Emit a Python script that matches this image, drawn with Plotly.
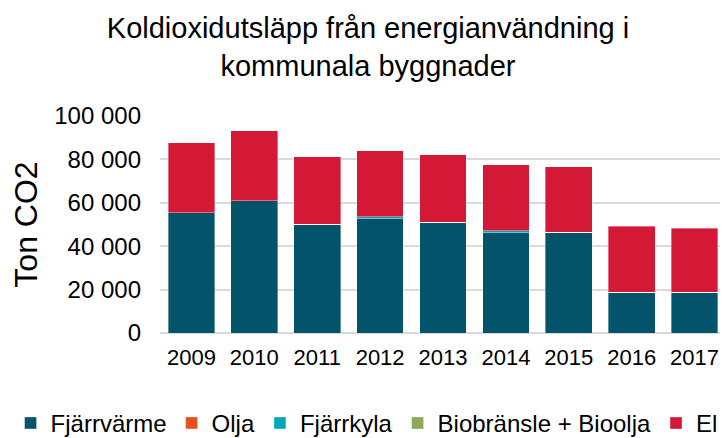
import plotly.graph_objects as go

years = ["2009", "2010", "2011", "2012", "2013", "2014", "2015", "2016", "2017"]
fjarrvarme = [55500, 61000, 50200, 52700, 51000, 46300, 46400, 18700, 18700]
olja = [0, 0, 0, 0, 0, 0, 0, 0, 0]
fjarrkyla = [0, 0, 0, 900, 0, 900, 0, 0, 0]
biobransle = [0, 0, 0, 0, 0, 0, 0, 0, 0]
el = [32100, 32100, 31000, 30300, 31200, 30300, 30200, 30400, 29500]

series = [
    ("Fjärrvärme", fjarrvarme, "#03536A"),
    ("Olja", olja, "#E8501E"),
    ("Fjärrkyla", fjarrkyla, "#00A7B8"),
    ("Biobränsle + Bioolja", biobransle, "#8DA857"),
    ("El", el, "#D41937"),
]

FONT = "Liberation Sans, Arial, sans-serif"

fig = go.Figure()
for name, vals, color in series:
    fig.add_trace(go.Bar(
        x=years, y=vals, name=name,
        marker=dict(color=color, line=dict(color="rgba(255,255,255,0.6)", width=0.6)),
    ))

fig.update_layout(
    width=720, height=430,
    barmode="stack",
    bargap=0.257,
    separators=", ",
    plot_bgcolor="white",
    paper_bgcolor="white",
    font=dict(family=FONT, color="#000000"),
    margin=dict(l=152, r=2, t=108, b=105, autoexpand=False),
    title=dict(
        text="Koldioxidutsläpp från energianvändning i<br>kommunala byggnader",
        x=0.5, xref="container", xanchor="center",
        y=0.93, yref="container", yanchor="top",
        font=dict(size=29, family=FONT, color="#000000"),
    ),
    xaxis=dict(
        showgrid=False,
        tickfont=dict(size=22, family=FONT, color="#000000"),
        ticks="",
        showline=False,
        ticklabelstandoff=9,
    ),
    yaxis=dict(
        range=[0, 100000],
        dtick=20000,
        tickformat=",d",
        showgrid=True,
        gridcolor="#D9D9D9",
        gridwidth=1.5,
        zeroline=True,
        zerolinecolor="#D9D9D9",
        zerolinewidth=1.5,
        tickfont=dict(size=24, family=FONT, color="#000000"),
        ticks="",
        ticklabelstandoff=18,
        title=dict(text="Ton CO2", font=dict(size=32, family=FONT, color="#000000"), standoff=17),
    ),
    legend=dict(
        orientation="h",
        xref="paper", yref="paper",
        x=-0.264, xanchor="left",
        y=-0.52, yanchor="bottom",
        font=dict(size=24, family=FONT, color="#000000"),
        traceorder="normal",
        itemwidth=30,
        tracegroupgap=0,
    ),
)

fig.write_html("out.html")
